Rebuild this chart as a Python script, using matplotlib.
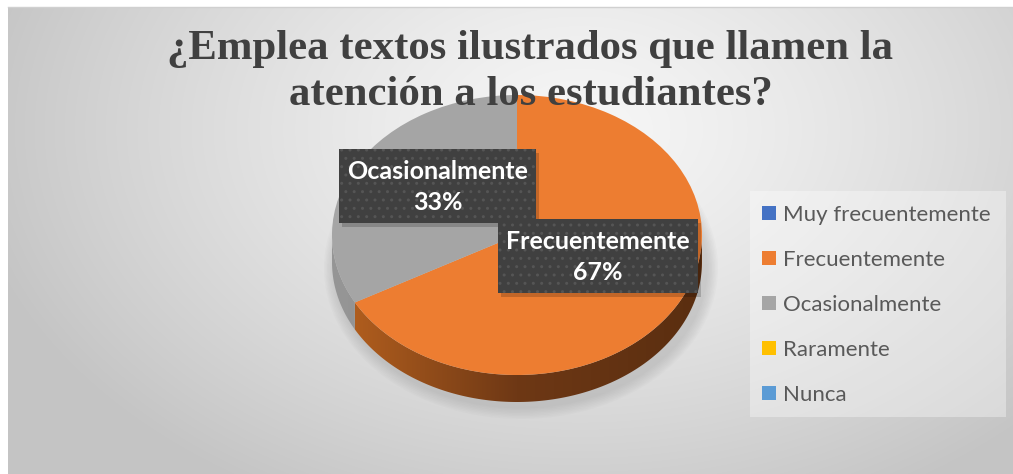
import numpy as np
import matplotlib
matplotlib.use("Agg")
import matplotlib.pyplot as plt
from matplotlib.patches import Wedge, Rectangle, Polygon, Ellipse
from matplotlib.transforms import Affine2D
from matplotlib.colors import LinearSegmentedColormap

# ---- data ----
categories = ["Muy frecuentemente", "Frecuentemente", "Ocasionalmente", "Raramente", "Nunca"]
values = [0, 67, 33, 0, 0]
colors = ["#4472c4", "#ed7d31", "#a5a5a5", "#ffc000", "#5b9bd5"]
side_colors = [["#2f4f8a", "#1f3560"],
               ["#b8621f", "#6e3815", "#5a2e10"],
               ["#969696", "#7e7e7e"],
               ["#b38600", "#7a5c00"],
               ["#406d96", "#2b4a66"]]
title_lines = ["¿Emplea textos ilustrados que llamen la", "atención a los estudiantes?"]

# data label boxes (x0, y0, x1, y1) in pixels, for the non-zero slices
label_boxes = {"Ocasionalmente": (339, 149, 536, 223),
               "Frecuentemente": (498, 219, 698, 293)}

W, H = 1013, 474
fig = plt.figure(figsize=(W / 100, H / 100), dpi=100)
ax = fig.add_axes([0, 0, 1, 1])
ax.set_xlim(0, W)
ax.set_ylim(H, 0)
ax.axis("off")

# ---- background (radial gray gradient) ----
X0, Y0 = 8, 7
xx, yy = np.meshgrid(np.arange(X0, W) + 0.5, np.arange(Y0, H) + 0.5)
r = np.sqrt(((xx - 580) / 620) ** 2 + ((yy - 130) / 420) ** 2)
r = np.clip(r, 0, 1)
light, dark = 0.965, 0.77
bg = light - (light - dark) * r ** 1.3
ax.imshow(np.dstack([bg, bg, bg]), extent=(X0, W, H, Y0), aspect="auto",
          interpolation="bilinear", zorder=0)
ax.plot([X0, W], [Y0, Y0], color="#d0d0d0", lw=1, zorder=1)

# ---- pie geometry ----
cx, cy, rx, ry, depth = 517, 235, 185, 140, 27
to_ell = Affine2D().scale(rx, -ry).translate(cx, cy) + ax.transData

# soft shadow below pie
for k in range(8):
    ax.add_patch(Ellipse((cx + 4, cy + depth + 6), 2 * rx + 24 - 3 * k, 2 * ry + 22 - 3 * k,
                         color="#808080", alpha=0.035, lw=0, zorder=2))

total = float(sum(values))
start = 90.0
angles = []
for v in values:
    span = v / total * 360
    theta2 = start
    theta1 = start - span
    angles.append((theta1, theta2))
    start = theta1

# side walls (visible front half)
for i, (t1, t2) in enumerate(angles):
    if values[i] == 0:
        continue
    a1 = t1 % 360
    a2 = a1 + (t2 - t1)
    for lo, hi in [(180, 360), (540, 720)]:
        s, e = max(a1, lo), min(a2, hi)
        if e <= s:
            continue
        t = np.radians(np.linspace(s, e, 200))
        top_x = cx + rx * np.cos(t)
        top_y = cy - ry * np.sin(t)
        verts = np.vstack([np.column_stack([top_x, top_y]),
                           np.column_stack([top_x[::-1], top_y[::-1] + depth])])
        poly = Polygon(verts, closed=True, facecolor="none", lw=0, zorder=3)
        ax.add_patch(poly)
        cmap = LinearSegmentedColormap.from_list("side%d" % i, side_colors[i])
        grad = np.linspace(0, 1, 256).reshape(1, -1)
        im = ax.imshow(grad, cmap=cmap, extent=(cx - rx, cx + rx, cy + ry + depth, cy - ry),
                       aspect="auto", zorder=3, interpolation="bilinear")
        im.set_clip_path(poly)

# top face
for i, (t1, t2) in enumerate(angles):
    if values[i] == 0:
        continue
    ax.add_patch(Wedge((0, 0), 1, t1, t2, facecolor=colors[i], lw=0,
                       transform=to_ell, zorder=4))

# ---- data labels ----
for i, cat in enumerate(categories):
    if values[i] == 0 or cat not in label_boxes:
        continue
    x0, y0, x1, y1 = label_boxes[cat]
    ax.add_patch(Rectangle((x0 + 3, y0 + 4), x1 - x0, y1 - y0, facecolor="#000000",
                           alpha=0.18, lw=0, zorder=5))
    ax.add_patch(Rectangle((x0, y0), x1 - x0, y1 - y0, facecolor="#404040",
                           edgecolor="#555555", hatch="..", lw=0, zorder=6))
    ax.text((x0 + x1) / 2, (y0 + y1) / 2 + 1, "%s\n%d%%" % (cat, values[i]),
            ha="center", va="center", color="white", fontsize=18,
            fontweight="bold", family="Lato", linespacing=1.45, zorder=7)

# ---- title ----
ax.text(530, 59, title_lines[0], ha="center", va="baseline", fontsize=30.8,
        fontweight="bold", family="Liberation Serif", color="#404040", zorder=8)
ax.text(531, 105, title_lines[1], ha="center", va="baseline", fontsize=30.8,
        fontweight="bold", family="Liberation Serif", color="#404040", zorder=8)

# ---- legend ----
ax.add_patch(Rectangle((750, 191), 256, 226, facecolor="white", alpha=0.35, lw=0, zorder=5))
for i, cat in enumerate(categories):
    yc = 213 + 45 * i
    ax.add_patch(Rectangle((762, yc - 7), 14, 14, facecolor=colors[i], lw=0, zorder=6))
    ax.text(783, yc, cat, ha="left", va="center_baseline", fontsize=16,
            family="Lato", color="#595959", zorder=6)

fig.savefig("out.png", dpi=100, facecolor="white")
